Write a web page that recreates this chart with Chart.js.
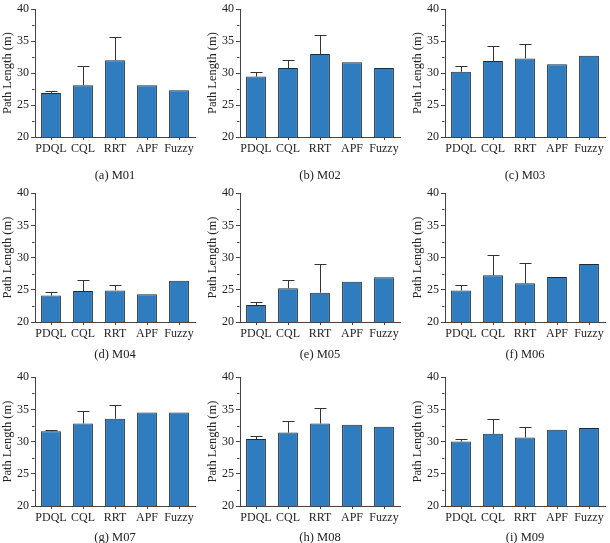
<!DOCTYPE html>
<html>
<head>
<meta charset="utf-8">
<script src="https://cdn.jsdelivr.net/npm/chart.js@4.4.1/dist/chart.umd.min.js"></script>
<style>
  html, body { margin:0; padding:0; background:#fff; width:610px; height:543px; overflow:hidden; }
  .panel { position:absolute; width:205px; }
</style>
</head>
<body>
<script>
const categories = ['PDQL', 'CQL', 'RRT', 'APF', 'Fuzzy'];
const mapNames = ['M01','M02','M03','M04','M05','M06','M07','M08','M09'];
const panelLetters = ['a','b','c','d','e','f','g','h','i'];
const yTicks = [20, 25, 30, 35, 40];

const m01Values = [26.9, 28.1, 32.0, 28.1, 27.3];
const m01Errors = [0.3, 3.0, 3.7, 0, 0];
const m02Values = [29.45, 30.8, 33.0, 31.7, 30.8];
const m02Errors = [0.65, 1.3, 3.0, 0, 0];
const m03Values = [30.2, 31.9, 32.3, 31.4, 32.7];
const m03Errors = [0.9, 2.3, 2.2, 0, 0];
const m04Values = [24.1, 24.8, 24.9, 24.3, 26.4];
const m04Errors = [0.5, 1.7, 0.9, 0, 0];
const m05Values = [22.65, 25.25, 24.55, 26.25, 26.95];
const m05Errors = [0.5, 1.2, 4.5, 0, 0];
const m06Values = [24.9, 27.25, 26.0, 27.0, 29.0];
const m06Errors = [0.9, 3.15, 3.1, 0, 0];
const m07Values = [31.6, 32.8, 33.55, 34.5, 34.5];
const m07Errors = [0.15, 1.9, 2.2, 0, 0];
const m08Values = [30.4, 31.4, 32.8, 32.6, 32.3];
const m08Errors = [0.4, 1.85, 2.45, 0, 0];
const m09Values = [30.0, 31.2, 30.65, 31.85, 32.1];
const m09Errors = [0.4, 2.3, 1.6, 0, 0];

const allValues = [m01Values, m02Values, m03Values, m04Values, m05Values, m06Values, m07Values, m08Values, m09Values];
const allErrors = [m01Errors, m02Errors, m03Errors, m04Errors, m05Errors, m06Errors, m07Errors, m08Errors, m09Errors];

// layout
const colLeft = [0, 205, 410];
const rowTop = [0, 184, 368];
const rowHeight = [182, 177, 176];
const xAxisHeight = [45, 39, 38];

const FONT = "'Liberation Serif', 'Times New Roman', serif";
const AXIS = '#444';

const errorBarPlugin = {
  id: 'errorBars',
  afterDatasetsDraw(chart) {
    const ctx = chart.ctx;
    const meta = chart.getDatasetMeta(0);
    const ys = chart.scales.y;
    const errs = chart.options.plugins.errorBars.errors;
    const vals = chart.data.datasets[0].data;
    ctx.save();
    ctx.strokeStyle = '#333';
    ctx.lineWidth = 1;
    meta.data.forEach((bar, i) => {
      const e = errs[i];
      if (!e) return;
      const x = Math.round(bar.x) + 0.5;
      const y0 = ys.getPixelForValue(vals[i]);
      const y1 = Math.round(ys.getPixelForValue(vals[i] + e)) + 0.5;
      ctx.beginPath();
      ctx.moveTo(x, y0);
      ctx.lineTo(x, y1);
      ctx.moveTo(x - 6, y1);
      ctx.lineTo(x + 6, y1);
      ctx.stroke();
    });
    // minor ticks on y axis
    const xa = Math.round(ys.right) - 0.5;
    ctx.strokeStyle = AXIS;
    for (let v = 22.5; v < 40; v += 5) {
      const y = Math.round(ys.getPixelForValue(v)) + 0.5;
      ctx.beginPath();
      ctx.moveTo(xa, y);
      ctx.lineTo(xa - 2.5, y);
      ctx.stroke();
    }
    ctx.restore();
  }
};

for (let p = 0; p < 9; p++) {
  const r = Math.floor(p / 3), c = p % 3;
  const div = document.createElement('div');
  div.className = 'panel';
  div.style.left = colLeft[c] + 'px';
  div.style.top = rowTop[r] + 'px';
  div.style.height = rowHeight[r] + 'px';
  const cv = document.createElement('canvas');
  div.appendChild(cv);
  document.body.appendChild(div);
  const xh = xAxisHeight[r];

  new Chart(cv, {
    type: 'bar',
    data: {
      labels: categories,
      datasets: [{
        data: allValues[p],
        backgroundColor: '#2f7dbf',
        borderColor: '#1e2a36',
        borderWidth: 1,
        borderSkipped: 'bottom',
        categoryPercentage: 1.0,
        barPercentage: 0.62
      }]
    },
    options: {
      responsive: true,
      maintainAspectRatio: false,
      animation: false,
      layout: { padding: { top: 5, right: 10, left: 0, bottom: 0 } },
      plugins: {
        legend: { display: false },
        tooltip: { enabled: false },
        errorBars: { errors: allErrors[p] }
      },
      scales: {
        x: {
          grid: { display: true, drawOnChartArea: false, offset: false, tickLength: 3, color: AXIS },
          border: { display: true, color: AXIS, width: 1 },
          ticks: { color: '#222', font: { family: FONT, size: 12 }, padding: 2, maxRotation: 0, autoSkip: false },
          title: {
            display: true,
            text: '(' + panelLetters[p] + ') ' + mapNames[p],
            color: '#222',
            font: { family: FONT, size: 12.5, lineHeight: 1 },
            padding: { top: 4, bottom: 0 }
          },
          afterFit(s) { s.height = xh; }
        },
        y: {
          min: 20, max: 40,
          afterBuildTicks(s) { s.ticks = yTicks.map(v => ({ value: v })); },
          grid: { display: true, drawOnChartArea: false, tickLength: 4, color: AXIS },
          border: { display: true, color: AXIS, width: 1 },
          ticks: { color: '#222', font: { family: FONT, size: 12 }, padding: 2 },
          title: {
            display: true,
            text: 'Path Length (m)',
            color: '#222',
            font: { family: FONT, size: 12.5 },
            padding: { top: 0, bottom: 2 }
          },
          afterFit(s) { s.width = 35; }
        }
      }
    },
    plugins: [errorBarPlugin]
  });
}
</script>
</body>
</html>
